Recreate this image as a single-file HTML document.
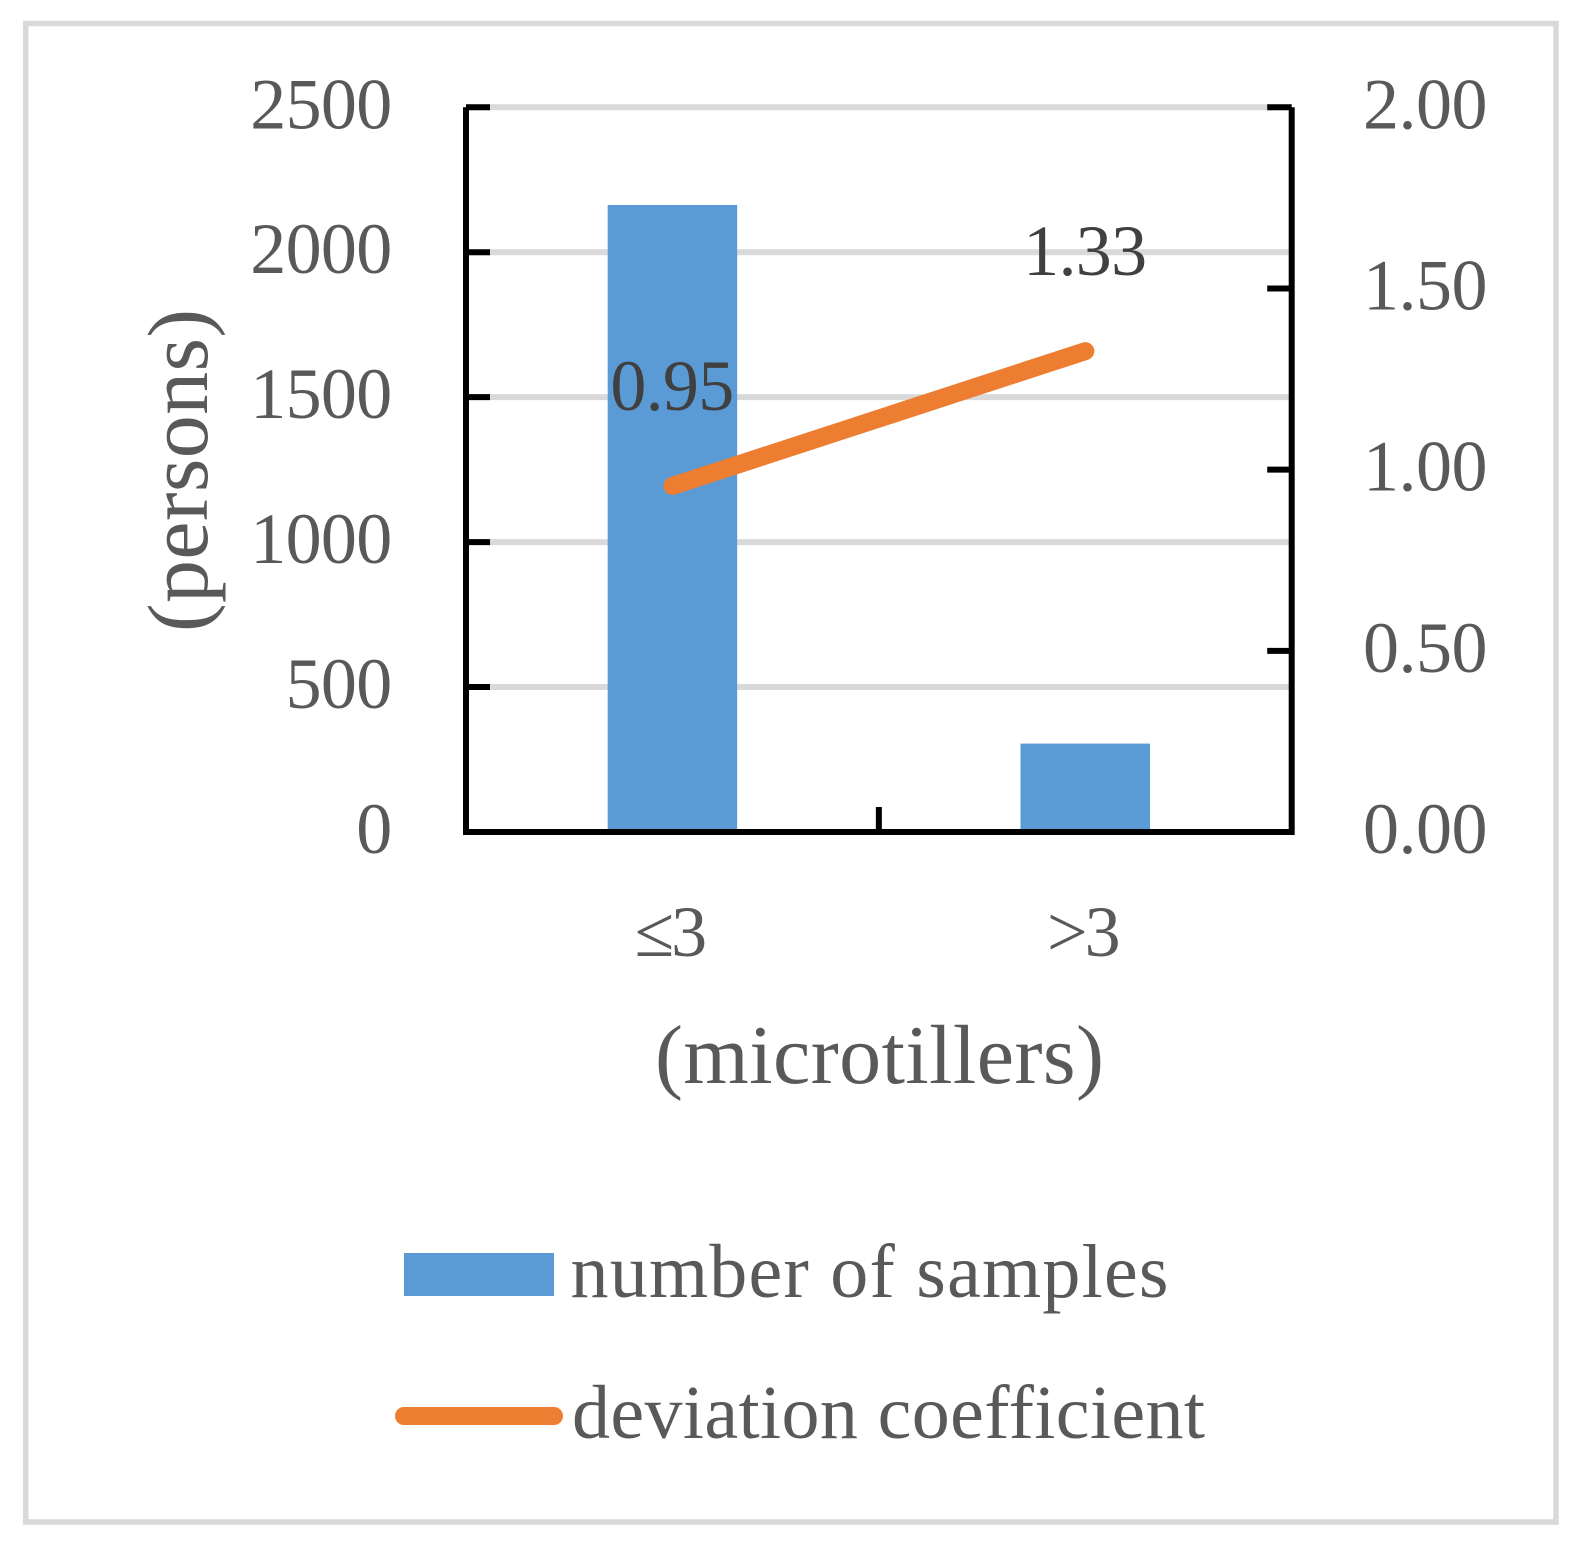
<!DOCTYPE html>
<html>
<head>
<meta charset="utf-8">
<title>Samples and deviation coefficient by microtillers</title>
<style>
html,body{margin:0;padding:0;background:#fff;overflow:hidden;}
svg{display:block;}
text{font-family:"Liberation Serif",serif;fill:#595959;}
</style>
</head>
<body>
<svg id="chart" xmlns="http://www.w3.org/2000/svg" width="1580" height="1553" viewBox="0 0 1580 1553">
<rect x="25.7" y="23.5" width="1530.3" height="1498.5" fill="#fff" stroke="#d9d9d9" stroke-width="5.5"/>
<g id="grid"></g>
<g id="bars"></g>
<g id="axes"></g>
<g id="line"></g>
<g id="labels"></g>
<text transform="translate(207,470.5) rotate(-90)" font-size="86" text-anchor="middle" textLength="323" lengthAdjust="spacing">(persons)</text>
<text x="879.5" y="1083" font-size="84" text-anchor="middle" textLength="449" lengthAdjust="spacing">(microtillers)</text>
<rect x="404" y="1253" width="150" height="43" fill="#5b9bd5"/>
<text x="570.5" y="1297" font-size="76" textLength="598" lengthAdjust="spacing">number of samples</text>
<line x1="404" y1="1416" x2="554" y2="1416" stroke="#ed7d31" stroke-width="18" stroke-linecap="round"/>
<text x="572" y="1438" font-size="76" textLength="633" lengthAdjust="spacing">deviation coefficient</text>
</svg>
<script>
var categories = ['≤3', '>3'];
var sampleCounts = [2163, 305];
var deviationCoefficients = [0.955, 1.327];
var deviationLabels = ['0.95', '1.33'];
var leftTicks = [0, 500, 1000, 1500, 2000, 2500];
var leftTickLabels = ['0', '500', '1000', '1500', '2000', '2500'];
var rightTicks = [0, 0.5, 1, 1.5, 2];
var rightTickLabels = ['0.00', '0.50', '1.00', '1.50', '2.00'];

var NS = 'http://www.w3.org/2000/svg';
var plotLeft = 466, plotRight = 1291.7, plotTop = 107.3, plotBottom = 832;
var leftMax = 2500, rightMax = 2;
function yLeft(v){ return plotBottom - (v / leftMax) * (plotBottom - plotTop); }
function yRight(v){ return plotBottom - (v / rightMax) * (plotBottom - plotTop); }
function xBand(i){ return plotLeft + (i + 0.5) * (plotRight - plotLeft) / categories.length; }
function make(tag, attrs, parent, txt){
  var el = document.createElementNS(NS, tag);
  for (var k in attrs) el.setAttribute(k, attrs[k]);
  if (txt !== undefined) el.textContent = txt;
  document.getElementById(parent).appendChild(el);
  return el;
}
var el;
leftTicks.forEach(function(t, i){
  var y = yLeft(t);
  if (t > 0) {
    el = make('line', {x1: plotLeft, x2: plotRight, y1: y, y2: y, stroke: '#d9d9d9', 'stroke-width': 6}, 'grid');
    
    
    el = make('line', {x1: plotLeft, x2: plotLeft + 24, y1: y, y2: y, stroke: '#000', 'stroke-width': 6}, 'axes');
    
    
  }
  el = make('text', {x: 391.5, y: y + 21, 'font-size': 72, 'text-anchor': 'end', 'letter-spacing': '-0.7'}, 'labels', leftTickLabels[i]);
  
  
});
rightTicks.forEach(function(t, i){
  var y = yRight(t);
  if (t > 0) {
    el = make('line', {x1: plotRight - 24.5, x2: plotRight, y1: y, y2: y, stroke: '#000', 'stroke-width': 6}, 'axes');
    
    
  }
  el = make('text', {x: 1363, y: y + 21, 'font-size': 72, 'letter-spacing': '-0.5'}, 'labels', rightTickLabels[i]);
  
  
});
var barWidth = 129.5;
sampleCounts.forEach(function(v, i){
  var y = yLeft(v);
  el = make('rect', {x: xBand(i) - barWidth / 2, y: y, width: barWidth, height: plotBottom - y, fill: '#5b9bd5'}, 'bars');
  
  
  el = make('text', {x: xBand(i) - 3, y: 956, 'font-size': 72, 'text-anchor': 'middle', 'letter-spacing': '-3'}, 'labels', categories[i]);
  
  
});
el = make('path', {d: 'M' + plotLeft + ' ' + plotTop + 'V' + plotBottom + 'H' + plotRight + 'V' + plotTop, fill: 'none', stroke: '#000', 'stroke-width': 6}, 'axes');


el = make('line', {x1: (plotLeft + plotRight) / 2, x2: (plotLeft + plotRight) / 2, y1: plotBottom - 25, y2: plotBottom, stroke: '#000', 'stroke-width': 6}, 'axes');


var pts = deviationCoefficients.map(function(v, i){ return xBand(i) + ' ' + yRight(v); }).join(' L');
el = make('path', {d: 'M' + pts, fill: 'none', stroke: '#ed7d31', 'stroke-width': 18, 'stroke-linecap': 'round'}, 'line');


deviationCoefficients.forEach(function(v, i){
  el = make('text', {x: xBand(i) - 0.5, y: yRight(v) - 76, 'font-size': 72, 'text-anchor': 'middle', 'letter-spacing': '-0.7', style: 'fill:#404040'}, 'labels', deviationLabels[i]);
  
  
});
</script>
</body>
</html>
